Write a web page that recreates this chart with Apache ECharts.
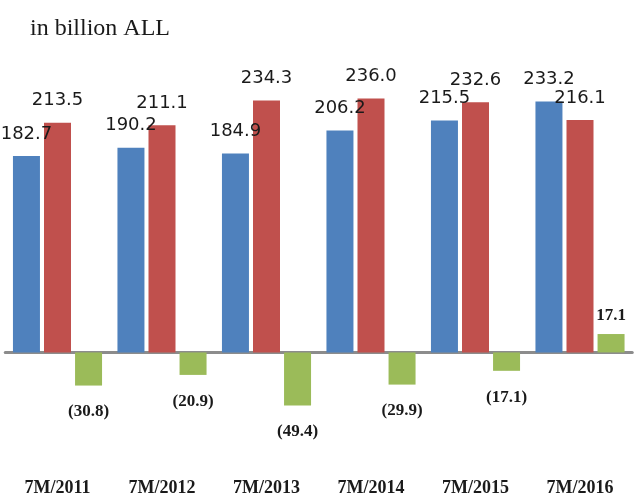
<!DOCTYPE html>
<html>
<head>
<meta charset="utf-8">
<script src="https://cdn.jsdelivr.net/npm/echarts@6/dist/echarts.min.js"></script>
<style>html,body{margin:0;padding:0;background:#fff}#c{width:634px;height:497px}</style>
</head>
<body>
<div id="c"></div>
<script>
var categories = ['7M/2011', '7M/2012', '7M/2013', '7M/2014', '7M/2015', '7M/2016'];
var blueValues = [182.7, 190.2, 184.9, 206.2, 215.5, 233.2];
var redValues = [213.5, 211.1, 234.3, 236.0, 232.6, 216.1];
var greenValues = [-30.8, -20.9, -49.4, -29.9, -17.1, 17.1];

var chart = echarts.init(document.getElementById('c'));
var topLabel = {
  show: true, position: 'top', distance: 13,
  fontFamily: 'DejaVu Sans', fontSize: 18, color: '#1a1a1a',
  formatter: function (p) { return p.value.toFixed(1); }
};
chart.setOption({
  animation: false,
  backgroundColor: '#ffffff',
  title: {
    text: 'in billion ALL', left: 25, top: 12,
    textStyle: { fontFamily: 'Liberation Serif', fontWeight: 'normal', fontSize: 24, color: '#1a1a1a' }
  },
  grid: { left: 5.25, right: 1.75, top: 83.5, bottom: 36.2, containLabel: false },
  xAxis: [
    {
      type: 'category', data: categories, position: 'bottom',
      axisLine: { onZero: true, lineStyle: { color: '#8c8c8c', width: 3 } },
      axisTick: { show: false }, axisLabel: { show: false }
    },
    {
      type: 'category', data: categories, position: 'bottom',
      axisLine: { show: false, onZero: false }, axisTick: { show: false },
      axisLabel: { show: true, margin: 19, fontFamily: 'Liberation Serif', fontWeight: 'bold', fontSize: 18, color: '#1a1a1a' }
    }
  ],
  yAxis: {
    type: 'value', min: -100, max: 250, show: false, splitLine: { show: false }
  },
  series: [
    {
      type: 'bar', xAxisIndex: 0, data: blueValues, barWidth: 27, barGap: '15%',
      itemStyle: { color: '#4F81BD' }, label: topLabel
    },
    {
      type: 'bar', xAxisIndex: 0, data: redValues, barWidth: 27, barGap: '15%',
      itemStyle: { color: '#C0504D' }, label: topLabel
    },
    {
      type: 'bar', xAxisIndex: 0, barWidth: 27, barGap: '15%',
      itemStyle: { color: '#9BBB59' },
      data: greenValues.map(function (v) {
        return {
          value: v,
          label: {
            show: true,
            position: v < 0 ? 'bottom' : 'top',
            distance: v < 0 ? 18 : 10,
            fontFamily: 'Liberation Serif', fontWeight: 'bold', fontSize: 17, color: '#1a1a1a',
            formatter: function (p) { return p.value < 0 ? '(' + Math.abs(p.value).toFixed(1) + ')' : p.value.toFixed(1); }
          }
        };
      })
    }
  ]
});
</script>
</body>
</html>
